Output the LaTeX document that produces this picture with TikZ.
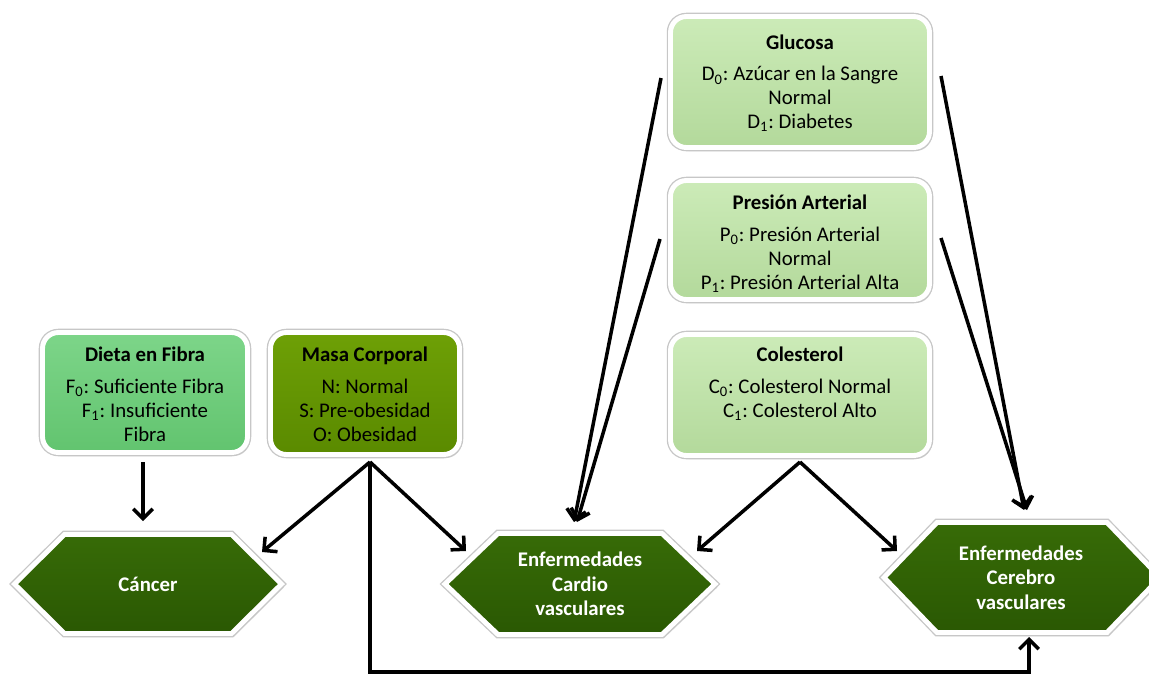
\documentclass[tikz,border=0pt]{standalone}
\usepackage{fontspec}
\setmainfont{Carlito}
\usetikzlibrary{arrows.meta,shadows}

\definecolor{paleTop}{HTML}{CCEBB8}
\definecolor{paleBot}{HTML}{B3D99B}
\definecolor{fibTop}{HTML}{7DD589}
\definecolor{fibBot}{HTML}{62C46F}
\definecolor{oliveTop}{HTML}{6EA006}
\definecolor{oliveBot}{HTML}{5A8A00}
\definecolor{hexTop}{HTML}{376B07}
\definecolor{hexBot}{HTML}{2A5803}

% hexagon: centre x, centre y, half width, half height, chamfer
\newcommand\hexpath[6]{%
  \path[hexfill] (#2-#4,#3) -- (#2-#4+#6,#3-#5) -- (#2+#4-#6,#3-#5)
    -- (#2+#4,#3) -- (#2+#4-#6,#3+#5) -- (#2-#4+#6,#3+#5) -- cycle;
  \coordinate (#1) at (#2,#3);}

\begin{document}
\frenchspacing
\begin{tikzpicture}[x=0.02cm,y=-0.02cm,
  font=\fontsize{11.85}{13.6}\selectfont,
  shade/.style={drop shadow={shadow xshift=1.3pt,shadow yshift=-2pt,opacity=0.28},
    preaction={draw=black!22,line width=4.3pt}},
  factor/.style={shade,draw=white,line width=2.8pt,rounded corners=9pt,inner sep=0pt},
  pale/.style={factor,top color=paleTop,bottom color=paleBot},
  fibre/.style={factor,top color=fibTop,bottom color=fibBot},
  olive/.style={factor,top color=oliveTop,bottom color=oliveBot},
  hexfill/.style={shade,draw=white,line width=2.8pt,line join=miter,top color=hexTop,bottom color=hexBot},
  txt/.style={align=center,inner sep=0pt,anchor=north},
  outtxt/.style={align=center,inner sep=0pt,text=white,font=\fontsize{11.85}{13.9}\selectfont\bfseries},
  conn/.style={line width=2pt,-{Straight Barb[length=5.5pt,width=11pt]}}]

\useasboundingbox (0,0) rectangle (1149,673);

% factor boxes
\node[pale,minimum width=5.18cm,minimum height=2.62cm] (glu) at (800,82) {};
\node[pale,minimum width=5.18cm,minimum height=2.38cm] (pre) at (800,240) {};
\node[pale,minimum width=5.18cm,minimum height=2.42cm] (col) at (800,395) {};
\node[fibre,minimum width=4.10cm,minimum height=2.40cm] (fib) at (145,392.5) {};
\node[olive,minimum width=3.78cm,minimum height=2.44cm] (mas) at (365,393.5) {};

\node[txt] (gluT) at (800,35) {\textbf{Glucosa}\\[4pt]
  D\textsubscript{0}: Azúcar en la Sangre\\ Normal\\ D\textsubscript{1}: Diabetes};
\node[txt] (preT) at (800,195) {\textbf{Presión Arterial}\\[4.5pt]
  P\textsubscript{0}: Presión Arterial\\ Normal\\ P\textsubscript{1}: Presión Arterial Alta};
\node[txt] (colT) at (800,347) {\textbf{Colesterol}\\[4.5pt]
  C\textsubscript{0}: Colesterol Normal\\ C\textsubscript{1}: Colesterol Alto};
\node[txt] (fibT) at (145,347) {\textbf{Dieta en Fibra}\\[4.5pt]
  F\textsubscript{0}: Suficiente Fibra\\ F\textsubscript{1}: Insuficiente\\ Fibra};
\node[txt] (masT) at (365,347) {\textbf{Masa Corporal}\\[4.5pt]
  N: Normal\\ S: Pre-obesidad\\ O: Obesidad};

% outcome hexagons
\hexpath{canC}{148}{584}{133.5}{49.5}{50}
\hexpath{cvdC}{580}{584}{135}{50.5}{53}
\hexpath{cbvC}{1022}{577.5}{138}{55}{53}
\node[outtxt] (can) at (canC) {Cáncer};
\node[outtxt] (cvd) at (cvdC) {Enfermedades\\ Cardio\\ vasculares};
\node[outtxt] (cbv) at (1021,577.5) {Enfermedades\\ Cerebro\\ vasculares};

% connector ends
\coordinate (fibS) at (143,462);
\coordinate (canTop) at (143,521);
\coordinate (masS) at (370,462);
\coordinate (canR) at (262,552);
\coordinate (cvdL) at (466,551);
\coordinate (low1) at (370,672);
\coordinate (low2) at (1029,672);
\coordinate (cbvBot) at (1029,637);
\coordinate (gluL) at (661,78);
\coordinate (preL) at (660,239);
\coordinate (cvdTop) at (574,522);
\coordinate (cvdTop2) at (577,522);
\coordinate (gluR) at (941,76);
\coordinate (preR) at (941,238);
\coordinate (cbvTop) at (1024,510);
\coordinate (cbvTop2) at (1027,510);
\coordinate (colS) at (800,462);
\coordinate (cvdR) at (697,551);
\coordinate (cbvL) at (897,551);

\draw[conn] (fibS) -- (canTop);
\draw[conn] (masS) -- (canR);
\draw[conn] (masS) -- (cvdL);
\draw[conn] (masS) -- (low1) -- (low2) -- (cbvBot);
\draw[conn] (gluL) -- (cvdTop);
\draw[conn] (preL) -- (cvdTop2);
\draw[conn] (gluR) -- (cbvTop);
\draw[conn] (preR) -- (cbvTop2);
\draw[conn] (colS) -- (cvdR);
\draw[conn] (colS) -- (cbvL);
\end{tikzpicture}
\end{document}
